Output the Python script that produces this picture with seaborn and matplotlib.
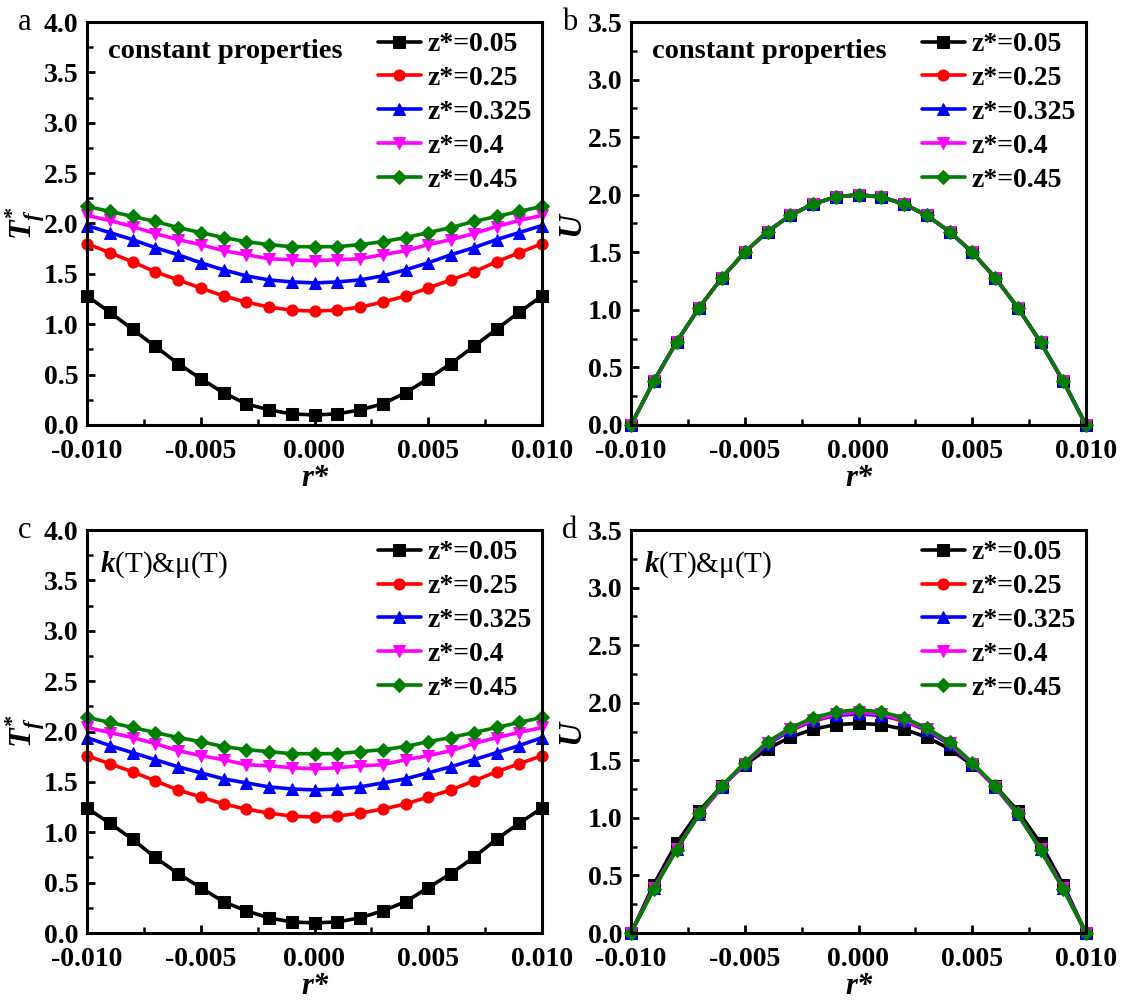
import numpy as np
import pandas as pd
import matplotlib
matplotlib.use("Agg")
import matplotlib.pyplot as plt
import seaborn as sns
from matplotlib.ticker import MultipleLocator, FormatStrFormatter

# ---------------- data ----------------
r_half = [-0.010, -0.009, -0.008, -0.007, -0.006, -0.005, -0.004, -0.003, -0.002, -0.001, 0.000]
labels = ["z*=0.05", "z*=0.25", "z*=0.325", "z*=0.4", "z*=0.45"]
colors = ["black", "red", "blue", "magenta", "green"]
markers = ["s", "o", "^", "v", "D"]

# panel a (constant properties, T*_f), values from r=-0.010 to 0 (symmetric)
Ta_005 = [1.28, 1.12, 0.95, 0.78, 0.61, 0.46, 0.32, 0.21, 0.15, 0.11, 0.10]
Ta_025 = [1.80, 1.71, 1.62, 1.52, 1.44, 1.36, 1.28, 1.22, 1.17, 1.14, 1.13]
Ta_0325 = [1.98, 1.91, 1.84, 1.76, 1.69, 1.61, 1.54, 1.48, 1.44, 1.42, 1.41]
Ta_04 = [2.08, 2.03, 1.97, 1.90, 1.84, 1.79, 1.73, 1.69, 1.65, 1.64, 1.63]
Ta_045 = [2.17, 2.12, 2.07, 2.02, 1.96, 1.91, 1.86, 1.82, 1.79, 1.77, 1.77]

# panel b (constant properties, U)
Ub_all = [0.00, 0.38, 0.72, 1.02, 1.28, 1.50, 1.68, 1.82, 1.92, 1.98, 2.00]

# panel c (k(T)&mu(T), T*_f)
Tc_005 = [1.24, 1.09, 0.93, 0.75, 0.59, 0.45, 0.31, 0.22, 0.15, 0.11, 0.10]
Tc_025 = [1.76, 1.68, 1.60, 1.51, 1.42, 1.35, 1.28, 1.23, 1.19, 1.16, 1.15]
Tc_0325 = [1.94, 1.86, 1.79, 1.72, 1.65, 1.59, 1.53, 1.49, 1.45, 1.43, 1.42]
Tc_04 = [2.04, 1.99, 1.94, 1.88, 1.81, 1.76, 1.72, 1.67, 1.66, 1.64, 1.63]
Tc_045 = [2.14, 2.09, 2.04, 1.99, 1.94, 1.90, 1.85, 1.82, 1.80, 1.78, 1.78]

# panel d (k(T)&mu(T), U)
Ud_005 = [0.00, 0.42, 0.78, 1.06, 1.28, 1.46, 1.60, 1.70, 1.77, 1.81, 1.82]
Ud_025 = [0.00, 0.39, 0.73, 1.03, 1.27, 1.47, 1.64, 1.76, 1.84, 1.89, 1.90]
Ud_0325 = [0.00, 0.39, 0.73, 1.03, 1.27, 1.47, 1.64, 1.76, 1.85, 1.89, 1.91]
Ud_04 = [0.00, 0.39, 0.73, 1.03, 1.27, 1.47, 1.65, 1.77, 1.85, 1.90, 1.92]
Ud_045 = [0.00, 0.38, 0.72, 1.04, 1.28, 1.48, 1.66, 1.78, 1.87, 1.92, 1.94]


def full(v):
    return list(v) + list(v[-2::-1])


r_full = list(r_half) + [-x for x in r_half[-2::-1]]

# ---------------- style ----------------
sns.set_style("ticks")
plt.rcParams["font.family"] = ["Liberation Serif", "DejaVu Serif"]
plt.rcParams["font.weight"] = "bold"
plt.rcParams["axes.edgecolor"] = "black"
plt.rcParams["xtick.color"] = "black"
plt.rcParams["ytick.color"] = "black"
plt.rcParams["text.color"] = "black"
plt.rcParams["axes.labelcolor"] = "black"
plt.rcParams["mathtext.fontset"] = "custom"
plt.rcParams["mathtext.rm"] = "Liberation Serif:bold"
plt.rcParams["mathtext.it"] = "Liberation Serif:italic:bold"
plt.rcParams["mathtext.bf"] = "Liberation Serif:bold"

fig = plt.figure(figsize=(11.26, 10.05), dpi=100)
W, H = 1126, 1005


def add_ax(l, t, r, b):
    return fig.add_axes([l / W, 1 - b / H, (r - l) / W, (b - t) / H])


axA = add_ax(87, 22, 542, 425)
axB = add_ax(631, 22, 1086, 425)
axC = add_ax(87, 530, 542, 933)
axD = add_ax(631, 530, 1086, 933)

panels = [
    (axA, [Ta_005, Ta_025, Ta_0325, Ta_04, Ta_045], 4.0, "T", "constant properties", "a"),
    (axB, [Ub_all] * 5, 3.5, "U", "constant properties", "b"),
    (axC, [Tc_005, Tc_025, Tc_0325, Tc_04, Tc_045], 4.0, "T", "k", "c"),
    (axD, [Ud_005, Ud_025, Ud_0325, Ud_04, Ud_045], 3.5, "U", "k", "d"),
]

FS = 20
for ax, series, ymax, ylab, note, letter in panels:
    for lab, col, mk, vals in zip(labels, colors, markers, series):
        df = pd.DataFrame({"r": r_full, "v": full(vals)})
        sns.lineplot(data=df, x="r", y="v", ax=ax, color=col, marker=mk,
                     markersize=8 if mk != "D" else 7, markeredgecolor=col,
                     linewidth=2.6, label=lab, clip_on=False)
    ax.set_xlim(-0.010, 0.010)
    ax.set_ylim(0, ymax)
    ax.xaxis.set_major_locator(MultipleLocator(0.005))
    ax.xaxis.set_minor_locator(MultipleLocator(0.0025))
    ax.yaxis.set_major_locator(MultipleLocator(0.5))
    ax.yaxis.set_minor_locator(MultipleLocator(0.25))
    ax.xaxis.set_major_formatter(FormatStrFormatter("%.3f"))
    ax.yaxis.set_major_formatter(FormatStrFormatter("%.1f"))
    ax.tick_params(axis="both", which="major", direction="in", length=6, width=2,
                   labelsize=FS)
    ax.tick_params(axis="x", which="major", pad=10)
    ax.tick_params(axis="y", which="major", pad=6)
    ax.tick_params(axis="both", which="minor", direction="in", length=4, width=1.8)
    for s in ax.spines.values():
        s.set_linewidth(2.2)
        s.set_color("black")
    ax.set_xlabel("r*", fontsize=FS + 2, fontstyle="italic", fontweight="bold", labelpad=0)
    if ylab == "T":
        ax.set_ylabel(r"$T^{*}_{f}$", fontsize=FS + 3, labelpad=-2)
    else:
        ax.set_ylabel("U", fontsize=FS + 4, fontstyle="italic", fontweight="bold", labelpad=1)
    if note == "k":
        ax.text(0.028, 0.915, r"$k$(T)&μ(T)", transform=ax.transAxes, fontsize=FS + 1,
                fontweight="normal", va="center", ha="left")
    else:
        ax.text(0.046, 0.927, note, transform=ax.transAxes, fontsize=20.5,
                fontweight="bold", va="center", ha="left")
    ax.legend(loc="upper right", bbox_to_anchor=(1 - 10 / 455, 1 - 10 / 403), frameon=False,
              fontsize=FS, handlelength=1.55, handletextpad=0.25, labelspacing=0.3,
              borderaxespad=0.0, borderpad=0.0)
    bb = ax.get_position()
    fig.text(bb.x0 - 69 / W, bb.y1, letter, fontsize=FS + 2, fontweight="normal",
             va="center", ha="left")

fig.savefig("out.png", dpi=100)
